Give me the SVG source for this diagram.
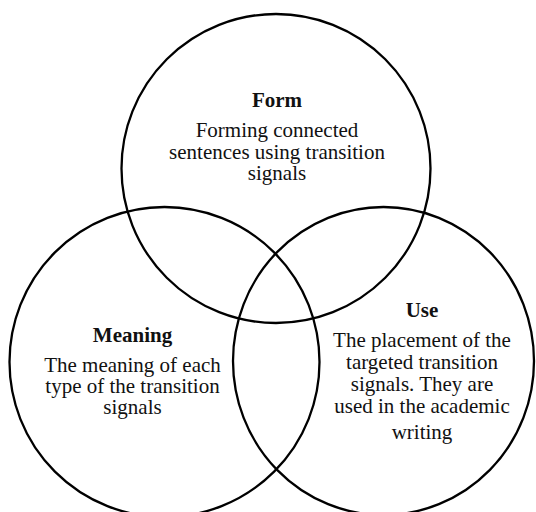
<svg xmlns="http://www.w3.org/2000/svg" width="536" height="512" viewBox="0 0 536 512">
<style>
.c{fill:none;stroke:#000;stroke-width:2.3}
text{font-family:'Liberation Serif','Times New Roman',Tinos,'DejaVu Serif',serif;font-size:21px;fill:#111;text-anchor:middle}
.b{font-weight:bold}
</style>
<rect width="536" height="512" fill="#fff"/>
<g id="form">
<circle class="c" cx="276" cy="168.5" r="154.5"/>
<text class="b" x="277" y="107">Form</text>
<text x="277" y="137">Forming connected</text>
<text x="277" y="158.5">sentences using transition</text>
<text x="277" y="180">signals</text>
</g>
<g id="meaning">
<circle class="c" cx="164.5" cy="362" r="155"/>
<text class="b" x="132.5" y="342">Meaning</text>
<text x="132.5" y="372">The meaning of each</text>
<text x="132.5" y="393">type of the transition</text>
<text x="132.5" y="414">signals</text>
</g>
<g id="use">
<ellipse class="c" cx="383.5" cy="361" rx="150.5" ry="154"/>
<text class="b" x="422" y="317">Use</text>
<text x="422" y="347">The placement of the</text>
<text x="422" y="369">targeted transition</text>
<text x="422" y="391">signals. They are</text>
<text x="422" y="413">used in the academic</text>
<text x="422" y="439">writing</text>
</g>
<g id="connectors"></g>
</svg>
